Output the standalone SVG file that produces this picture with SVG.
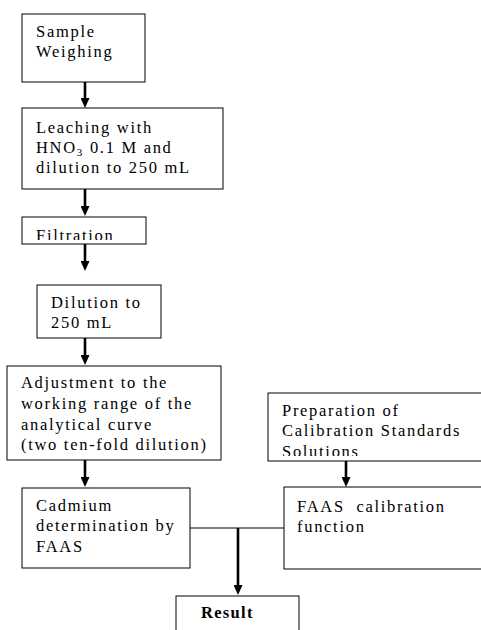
<svg xmlns="http://www.w3.org/2000/svg" width="481" height="630" viewBox="0 0 481 630">
<style>
.box{fill:#fff;stroke:#000;stroke-width:1}
.t{font-family:"Liberation Serif","Times New Roman",serif;font-size:16.5px;letter-spacing:1.7px;fill:#000}
.b{font-weight:bold;letter-spacing:1.3px}
.arr{stroke:#000;stroke-width:2.6;fill:none}
.thin{stroke:#000;stroke-width:1;fill:none}
</style>
<defs>
<marker id="ah" viewBox="0 0 10 9" markerWidth="10" markerHeight="9" refX="0" refY="4.5" orient="auto" markerUnits="userSpaceOnUse">
<path d="M0,0 L10,4.5 L0,9 z" fill="#000"/>
</marker>
<clipPath id="cf"><rect x="22" y="217" width="124" height="23"/></clipPath>
<clipPath id="cs"><rect x="268" y="393" width="213" height="63"/></clipPath>
</defs>
<g id="connectors">
<line class="arr" x1="85" y1="82" x2="85" y2="98" marker-end="url(#ah)"/>
<line class="arr" x1="85" y1="189" x2="85" y2="206" marker-end="url(#ah)"/>
<line class="arr" x1="85" y1="244" x2="85" y2="261" marker-end="url(#ah)"/>
<line class="arr" x1="85" y1="338" x2="85" y2="355" marker-end="url(#ah)"/>
<line class="arr" x1="85" y1="460" x2="85" y2="477" marker-end="url(#ah)"/>
<line class="arr" x1="346" y1="461" x2="346" y2="477" marker-end="url(#ah)"/>
<line class="thin" x1="190" y1="528" x2="284" y2="528"/>
<line class="arr" x1="238" y1="528" x2="238" y2="585" marker-end="url(#ah)"/>
</g>
<g id="sample">
<rect class="box" x="22" y="14" width="123" height="68"/>
<text class="t" x="36" y="37">Sample</text>
<text class="t" x="36" y="57">Weighing</text>
</g>
<g id="leaching">
<rect class="box" x="22" y="108" width="201" height="81"/>
<text class="t" x="36" y="133">Leaching with</text>
<text class="t" x="36" y="153">HNO<tspan font-size="11" dy="3">3</tspan><tspan dy="-3"> 0.1 M and</tspan></text>
<text class="t" x="36" y="173">dilution to 250 mL</text>
</g>
<g id="filtration">
<rect class="box" x="22" y="217" width="124" height="27"/>
<text class="t" x="36" y="241" clip-path="url(#cf)">Filtration</text>
</g>
<g id="dilution">
<rect class="box" x="37" y="285" width="124" height="53"/>
<text class="t" x="51" y="308">Dilution to</text>
<text class="t" x="51" y="328">250 mL</text>
</g>
<g id="adjustment">
<rect class="box" x="7" y="366" width="214" height="94"/>
<text class="t" x="21" y="388">Adjustment to the</text>
<text class="t" x="21" y="409">working range of the</text>
<text class="t" x="21" y="430">analytical curve</text>
<text class="t" x="21" y="450">(two ten-fold dilution)</text>
</g>
<g id="cadmium">
<rect class="box" x="22" y="488" width="168" height="80"/>
<text class="t" x="36" y="511">Cadmium</text>
<text class="t" x="36" y="531">determination by</text>
<text class="t" x="36" y="552">FAAS</text>
</g>
<g id="preparation">
<rect class="box" x="268" y="393" width="220" height="68"/>
<text class="t" x="282" y="416">Preparation of</text>
<text class="t" x="282" y="436">Calibration Standards</text>
<text class="t" x="282" y="457" clip-path="url(#cs)">Solutions</text>
</g>
<g id="calibration">
<rect class="box" x="284" y="487" width="204" height="82"/>
<text class="t" x="297" y="512" xml:space="preserve">FAAS  calibration</text>
<text class="t" x="297" y="532">function</text>
</g>
<g id="result">
<rect class="box" x="176" y="596" width="123" height="50"/>
<text class="t b" x="201" y="618">Result</text>
</g>
</svg>
